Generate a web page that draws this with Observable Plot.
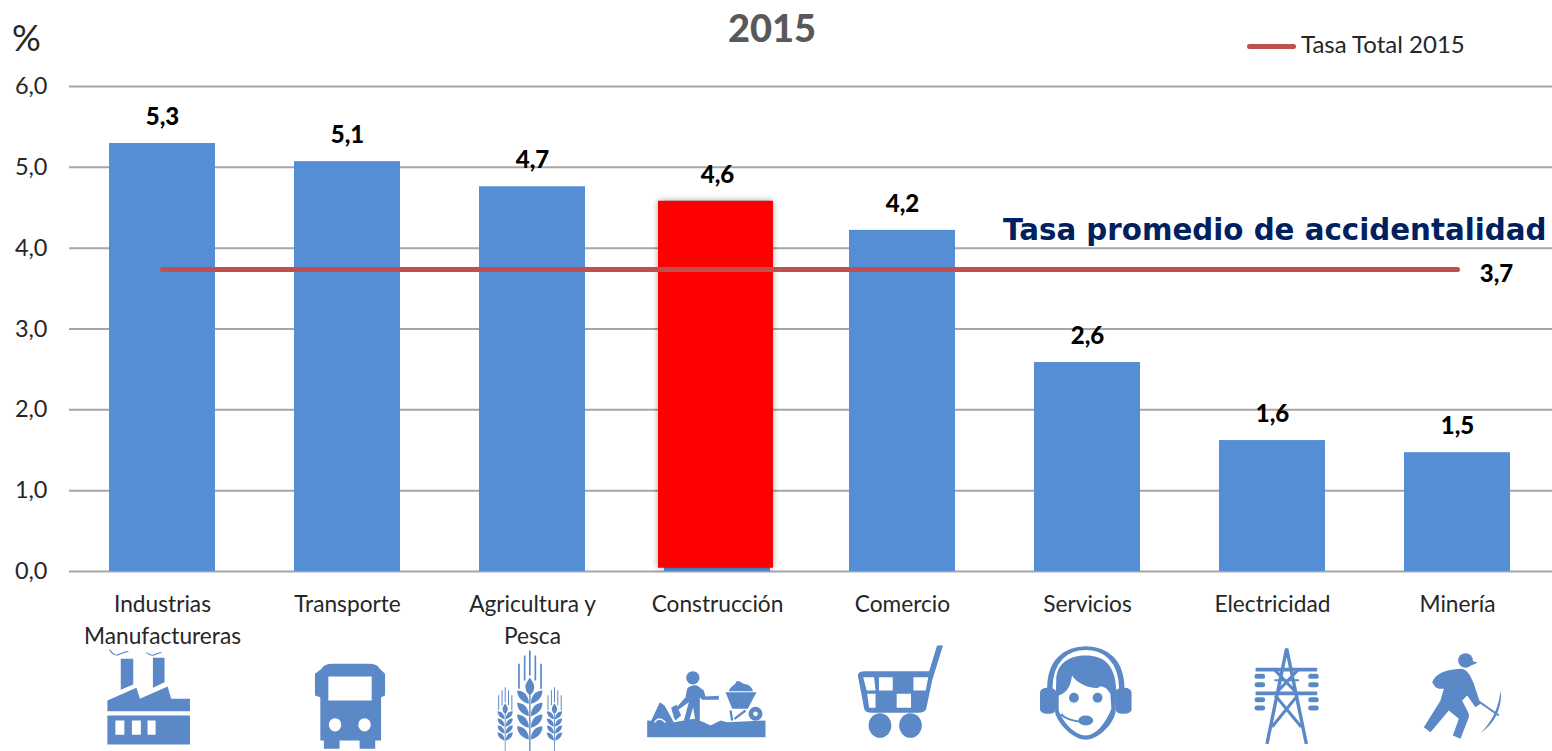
<!DOCTYPE html>
<html lang="es">
<head>
<meta charset="utf-8">
<script src="https://cdn.jsdelivr.net/npm/d3@7"></script>
<script src="https://cdn.jsdelivr.net/npm/@observablehq/plot@0.6"></script>
<style>
html,body{margin:0;padding:0;background:#fff;overflow:hidden}
#wrap{position:relative;width:1552px;height:751px;font-family:Lato,sans-serif}
#wrap svg{position:absolute;left:0;top:0;background:transparent}
.ov{position:absolute;white-space:nowrap;line-height:1}
</style>
</head>
<body>
<div id="wrap">
  <div class="ov" style="left:0;width:1544px;top:8px;text-align:center;font-size:38px;font-weight:900;color:#595959;z-index:2">2015</div>
  <div class="ov" style="left:12px;top:19px;font-size:36px;color:#262626;z-index:2">%</div>
  <div class="ov" style="left:1247px;top:43.5px;width:49px;height:5px;border-radius:3px;background:#c0504d;z-index:2"></div>
  <div class="ov" style="left:1301px;top:32px;font-size:24px;color:#262626;z-index:2">Tasa Total 2015</div>
</div>
<script>
const categories = ["Industrias Manufactureras","Transporte","Agricultura y Pesca","Construcción","Comercio","Servicios","Electricidad","Minería"];
const tickLabels = ["Industrias\nManufactureras","Transporte","Agricultura y\nPesca","Construcción","Comercio","Servicios","Electricidad","Minería"];
const rates = [5.295,5.07,4.76,4.58,4.22,2.585,1.62,1.47];
const rateLabels = ["5,3","5,1","4,7","4,6","4,2","2,6","1,6","1,5"];
const totalRate = 3.736;
const totalLabel = "3,7";
const yTicks = [0,1,2,3,4,5,6];
const annotation = "Tasa promedio de accidentalidad";
const highlighted = "Construcción";

const BAR = "#558ed5", ICON = "#5b88c7", GRID = "#a6a6a6", LINE = "#c0504d";

// Pictograms under the axis, drawn from the crops of the reference
function icon(cx, ox, oy, sx, sy, body){
  const x0=(cx-85-ox)*sx, y0=(640-oy)*sy, w=170*sx, h=111*sy;
  const svg=`<svg xmlns="http://www.w3.org/2000/svg" width="170" height="111" viewBox="${x0} ${y0} ${w} ${h}" preserveAspectRatio="none" fill="${ICON}">${body}</svg>`;
  return "data:image/svg+xml;charset=utf-8,"+encodeURIComponent(svg);
}
const factory=`<path d="M135 235H163V312L135 328ZM207 232H233V305L207 322Z"/>
<path d="M105 360L170 322L178 355L240 318L248 355H290V392H105Z"/>
<path fill-rule="evenodd" d="M105 405H290V492H105ZM123 420V463H143V420ZM160 420V463H180V420ZM195 420V463H213V420Z"/>
<path d="M110 208Q120 228 130 222T152 212M193 216Q203 228 212 222T226 216" fill="none" stroke="${ICON}" stroke-width="3"/>`;
const bus=`<path fill-rule="evenodd" d="M585 265Q590 250 610 250H690Q710 250 715 265L727 280V345L718 350V480H705V505H670V480H625V505H590V480H582V350L570 345V280ZM600 288V360H697V288ZM615 413A14 20 0 0 0 615 453A14 20 0 0 0 615 413ZM681 413A14 20 0 0 0 681 453A14 20 0 0 0 681 413Z"/>`;
const wheatHead=`<path d="M-35 55h5v75h-5ZM-18 30h5v75h-5ZM-2.500 15h5v75h-5ZM14 30h5v75h-5ZM31 55h5v75h-5Z"/>
<path d="M0 97C8 108 15 118 13 128C11 140 5 146 0 148C-5 146-11 140-13 128C-15 118-8 108 0 97Z"/>
${[135,172,207,242].map(y=>`<path d="M-3 ${y+40}C-20 ${y+37}-38 ${y+22}-38 ${y}C-18 ${y}-3 ${y+15}-3 ${y+40}Z"/><path d="M3 ${y+40}C20 ${y+37} 38 ${y+22} 38 ${y}C18 ${y} 3 ${y+15} 3 ${y+40}Z"/>`).join("")}
<path d="M-2 145h4v205h-4Z"/>`;
const wheat=`<g transform="translate(118 0)">${wheatHead}</g><g transform="translate(44 116) scale(.6)">${wheatHead}</g><g transform="translate(192 116) scale(.6)">${wheatHead}</g>`;
const construction=`<path d="M20 180L100 185L130 180L160 175L190 185L210 195L240 180L260 185L375 180V230H20Z"/>
<path d="M30 185L58 125L72 135L100 185Z"/><path d="M42 186Q55 165 75 186" fill="none" stroke="#fff" stroke-width="4"/>
<circle cx="157" cy="52" r="20"/>
<path d="M140 85Q150 72 170 75L190 90L195 108L235 106V118L185 118L178 110L178 185L165 185L158 140L145 185L130 180L145 125L110 150L105 145L135 110Z"/>
<path d="M92 142L108 133L122 165L105 180L100 170Z"/>
<path d="M255 95H348L322 145H275Z"/><path d="M265 92C270 75 285 75 288 62C300 60 305 72 320 72C330 75 335 85 338 92Z"/>
<path d="M270 150L275 180M282 175L315 150" fill="none" stroke="${ICON}" stroke-width="7"/>
<circle cx="345" cy="160" r="21"/><circle cx="345" cy="160" r="7" fill="#fff"/>`;
const cart=`<path fill-rule="evenodd" d="M157 285Q157 272 172 272H302L318 195H330L308 300L296 385Q293 397 280 397H185Q172 397 170 385ZM168 290L175 330H193L190 290ZM200 290V330H228V290ZM270 290V330H295L300 290ZM176 340L180 382H193V340ZM236 340V382H265V340Z"/>
<ellipse cx="202" cy="435" rx="23" ry="37"/><ellipse cx="264" cy="435" rx="23" ry="37"/>`;
const headset=`<path d="M547 325C547 240 580 203 620 203C660 203 693 240 693 325" fill="none" stroke="${ICON}" stroke-width="11"/>
<rect x="527" y="322" width="33" height="78" rx="14"/><rect x="680" y="322" width="33" height="78" rx="14"/>
<path d="M560 300C560 245 590 225 620 225C655 225 680 250 682 330L680 400C670 445 640 478 620 478C600 478 570 445 558 400Z"/>
<path fill="#fff" d="M565 345C585 335 590 310 592 285C605 315 635 325 645 322C650 315 660 315 670 340L672 385C660 430 640 465 620 465C600 465 575 430 565 390Z"/>
<ellipse cx="596" cy="352" rx="10" ry="15"/><ellipse cx="644" cy="352" rx="10" ry="15"/>
<circle cx="620" cy="420" r="15"/><path d="M570 400Q578 420 620 425" fill="none" stroke="${ICON}" stroke-width="5"/>`;
const tower=`<path d="M1028 204L988 490M1028 204L1068 490M1005 270L1050 340M1050 270L1005 340M1005 345L1058 440M1050 345L998 440" fill="none" stroke="${ICON}" stroke-width="7"/>
<path d="M965 262H1090V273H965ZM965 333H1090V344H965ZM1003 296H1053V302H1003Z"/>
${[963,1072].map(x=>[280,305,350,375].map(y=>`<rect x="${x}" y="${y}" width="21" height="15" rx="5"/>`).join("")).join("")}`;
const miner=`<circle cx="150" cy="45" r="22"/><path d="M160 42L186 52L168 60Z"/>
<path d="M50 110C60 85 90 72 135 70C155 70 165 90 175 115L195 175L180 185L155 150L140 165L160 205L160 215L135 280L112 270L130 220L100 195L45 260L25 245L75 165L85 130L70 130L60 125Z"/>
<path d="M150 140L250 210" fill="none" stroke="${ICON}" stroke-width="6"/>
<path d="M255 135C262 180 240 235 195 262C225 235 250 190 255 135Z"/>`;
const iconSources = [
  icon(162,60,580,2.24,3,factory), icon(347,60,580,2.24,3,bus),
  icon(532,490,645,3,3,wheat), icon(717,640,660,3,3,construction),
  icon(902,780,580,2.031,3,cart), icon(1087,780,580,2.031,3,headset),
  icon(1272,780,580,2.031,3,tower), icon(1457,1415,645,3,3,miner)
];

const chart = Plot.plot({
  width:1552, height:751,
  marginTop:86, marginBottom:180, marginLeft:69, marginRight:0,
  style:{fontFamily:"Lato, sans-serif", background:"transparent", overflow:"visible"},
  x:{type:"band", domain:categories, range:[69.5,1549.5], paddingInner:0.427, paddingOuter:0.2135, label:null},
  y:{domain:[0,6], label:null},
  marks:[
    Plot.ruleY(yTicks,{stroke:GRID,strokeWidth:2}),
    Plot.barY(categories,{x:d=>d,y1:0,y2:(d,i)=>rates[i],fill:BAR}),
    Plot.barY([highlighted],{x:d=>d,y1:0.04,y2:rates[categories.indexOf(highlighted)],fill:"#ff0000",insetLeft:-6,insetRight:-3,imageFilter:"drop-shadow(0 0 3px rgba(0,0,0,.35))"}),
    Plot.line(categories,{x:d=>d,y:()=>totalRate,stroke:LINE,strokeWidth:5,strokeLinecap:"round"}),
    Plot.axisY({ticks:yTicks,tickSize:0,tickPadding:22,fontSize:23.5,fill:"#262626",label:null,tickFormat:d=>d.toFixed(1).replace(".",",")}),
    Plot.axisX({tickSize:0,tickPadding:18,fontSize:22.7,fill:"#262626",label:null,lineHeight:1.41,tickFormat:(d,i)=>tickLabels[categories.indexOf(d)]}),
    Plot.text(categories,{x:d=>d,y:(d,i)=>rates[i],text:(d,i)=>rateLabels[i],dy:-26,lineAnchor:"middle",fontSize:24,fontWeight:900,fill:"#000"}),
    Plot.text([totalLabel],{x:()=>categories[7],y:()=>totalRate,text:d=>d,dx:39,dy:5,lineAnchor:"middle",fontSize:24,fontWeight:900,fill:"#000"}),
    Plot.text([annotation],{x:()=>categories[7],y:()=>4.22,text:d=>d,dx:89,textAnchor:"end",lineAnchor:"middle",fontFamily:"DejaVu Sans",fontSize:29.3,fontWeight:700,fill:"#002060"}),
    Plot.image(categories,{x:d=>d,y:()=>0,dy:124.5,width:170,height:111,src:(d,i)=>iconSources[i]})
  ]
});
document.getElementById("wrap").appendChild(chart);
</script>
</body>
</html>
